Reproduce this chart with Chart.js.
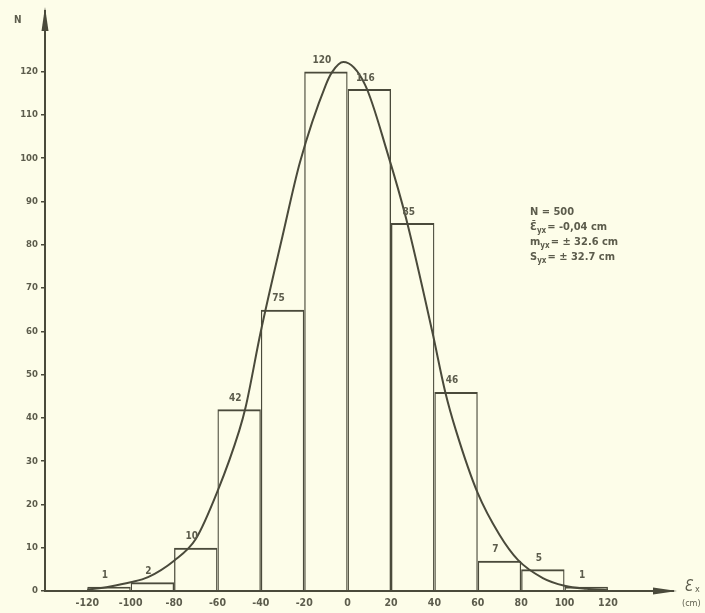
<!DOCTYPE html>
<html>
<head>
<meta charset="utf-8">
<script src="https://cdn.jsdelivr.net/npm/chart.js@4/dist/chart.umd.min.js"></script>
<style>
  html, body { margin: 0; padding: 0; background: #fdfde9; }
  #wrap { width: 705px; height: 613px; position: relative; }
</style>
</head>
<body>
<div id="wrap"><canvas id="c" width="705" height="613"></canvas></div>
<script>
// ---- data ----
const binCenters = [-110, -90, -70, -50, -30, -10, 10, 30, 50, 70, 90, 110];
const binCounts  = [1, 2, 10, 42, 65, 120, 116, 85, 46, 7, 5, 1];
const binLabels  = ['1', '2', '10', '42', '75', '120', '116', '85', '46', '7', '5', '1'];
const curveX = [-120, -110, -100, -92, -80, -70, -60, -50, -47, -40, -30, -22, -10, -7, -2, 8, 18.5, 27, 39, 45, 50, 60, 70, 78.5, 90, 100, 110, 120];
const curveY = [0.3, 1.0, 2.0, 3.2, 7, 12, 23, 37, 42.5, 60, 82, 99, 117, 120, 122.2, 117, 101, 86, 60, 46, 37, 22.6, 13, 7.2, 3, 1.2, 0.5, 0.2];
const xTickValues = [-120, -100, -80, -60, -40, -20, 0, 20, 40, 60, 80, 100, 120];
const yTickValues = [0, 10, 20, 30, 40, 50, 60, 70, 80, 90, 100, 110, 120];
const statsLines = [
  { main: 'N = 500', sub: '', rest: '' },
  { main: 'Ɛ̄', sub: 'yx', rest: '= -0,04 cm' },
  { main: 'm', sub: 'yx', rest: '= ± 32.6 cm' },
  { main: 'S', sub: 'yx', rest: '= ± 32.7 cm' }
];

const INK = '#4a4a3b';
const TXT = '#5c5c4c';
const BG = '#fdfde9';
const FONT = '"DejaVu Sans Condensed", "DejaVu Sans", sans-serif';

const bgPlugin = {
  id: 'bg',
  beforeDraw(chart) {
    const ctx = chart.ctx;
    ctx.save();
    ctx.fillStyle = BG;
    ctx.fillRect(0, 0, chart.width, chart.height);
    ctx.restore();
  }
};

const decoPlugin = {
  id: 'deco',
  afterDraw(chart) {
    const ctx = chart.ctx;
    const ca = chart.chartArea;
    ctx.save();
    // bar value labels
    const meta = chart.getDatasetMeta(0);
    ctx.fillStyle = TXT;
    ctx.font = 'bold 10px ' + FONT;
    ctx.textAlign = 'center';
    ctx.textBaseline = 'bottom';
    meta.data.forEach((bar, i) => {
      ctx.fillText(binLabels[i], bar.x - 4, bar.y - 6);
    });
    // y axis arrow
    const ax = ca.left, ay = ca.top;
    ctx.fillStyle = INK;
    ctx.beginPath();
    ctx.moveTo(ax, ay - 4);
    ctx.lineTo(ax - 3.5, ay + 20);
    ctx.lineTo(ax + 3.5, ay + 20);
    ctx.closePath();
    ctx.fill();
    // x axis arrow
    const bx = ca.right, by = ca.bottom;
    ctx.beginPath();
    ctx.moveTo(bx + 4, by);
    ctx.lineTo(bx - 20, by - 3.5);
    ctx.lineTo(bx - 20, by + 3.5);
    ctx.closePath();
    ctx.fill();
    // axis names
    ctx.fillStyle = TXT;
    ctx.font = 'bold 10px ' + FONT;
    ctx.textAlign = 'left';
    ctx.textBaseline = 'middle';
    ctx.fillText('N', 14, 20);
    ctx.font = 'italic 15px ' + FONT;
    ctx.fillText('Ɛ', bx + 11, by - 4);
    ctx.font = '9px ' + FONT;
    ctx.fillText('x', bx + 22, by - 1);
    ctx.fillText('(cm)', bx + 9, by + 13);
    // stats block
    const y0 = 212;
    const x0 = 530;
    statsLines.forEach((ln, i) => {
      const yy = y0 + i * 15;
      ctx.font = 'bold 11px ' + FONT;
      ctx.textBaseline = 'middle';
      let x = x0;
      ctx.fillText(ln.main, x, yy);
      x += ctx.measureText(ln.main).width;
      if (ln.sub) {
        ctx.font = 'bold 8px ' + FONT;
        ctx.fillText(ln.sub, x, yy + 4);
        x += ctx.measureText(ln.sub).width + 1;
        ctx.font = 'bold 11px ' + FONT;
        ctx.fillText(ln.rest, x, yy);
      }
    });
    ctx.restore();
  }
};

const ctx = document.getElementById('c').getContext('2d');
new Chart(ctx, {
  type: 'bar',
  data: {
    datasets: [
      {
        type: 'bar',
        data: binCenters.map((x, i) => ({ x: x, y: binCounts[i] })),
        backgroundColor: 'rgba(0,0,0,0)',
        borderColor: INK,
        borderWidth: { top: 2, left: 1.3, right: 1.3, bottom: 0 },
        borderSkipped: 'start',
        inflateAmount: 0,
        barPercentage: 1.0,
        categoryPercentage: 1.0,
        order: 2
      },
      {
        type: 'line',
        data: curveX.map((x, i) => ({ x: x, y: curveY[i] })),
        borderColor: INK,
        borderWidth: 2,
        pointRadius: 0,
        fill: false,
        cubicInterpolationMode: 'monotone',
        order: 1
      }
    ]
  },
  options: {
    responsive: false,
    animation: false,
    devicePixelRatio: 1,
    layout: { padding: { left: 0, right: 32, top: 11, bottom: 0 } },
    plugins: { legend: { display: false }, tooltip: { enabled: false } },
    scales: {
      x: {
        type: 'linear',
        min: -139.5,
        max: 150,
        offset: false,
        afterBuildTicks(scale) { scale.ticks = xTickValues.map(v => ({ value: v })); },
        afterFit(scale) { scale.height = 22; },
        grid: { display: true, drawOnChartArea: false, drawTicks: false },
        border: { display: true, color: INK, width: 2 },
        ticks: {
          color: TXT,
          font: { family: FONT, size: 10.5, weight: 'bold' },
          padding: 6,
          maxRotation: 0,
          autoSkip: false,
          callback: v => String(v)
        }
      },
      y: {
        type: 'linear',
        min: 0,
        max: 134,
        afterBuildTicks(scale) { scale.ticks = yTickValues.map(v => ({ value: v })); },
        afterFit(scale) { scale.width = 45; },
        grid: { display: true, drawOnChartArea: false, drawTicks: true, tickLength: 4, color: INK, lineWidth: 1.5 },
        border: { display: true, color: INK, width: 2 },
        ticks: {
          color: TXT,
          font: { family: FONT, size: 9.5, weight: 'bold' },
          padding: 3,
          autoSkip: false,
          callback: v => String(v)
        }
      }
    }
  },
  plugins: [bgPlugin, decoPlugin]
});
</script>
</body>
</html>
